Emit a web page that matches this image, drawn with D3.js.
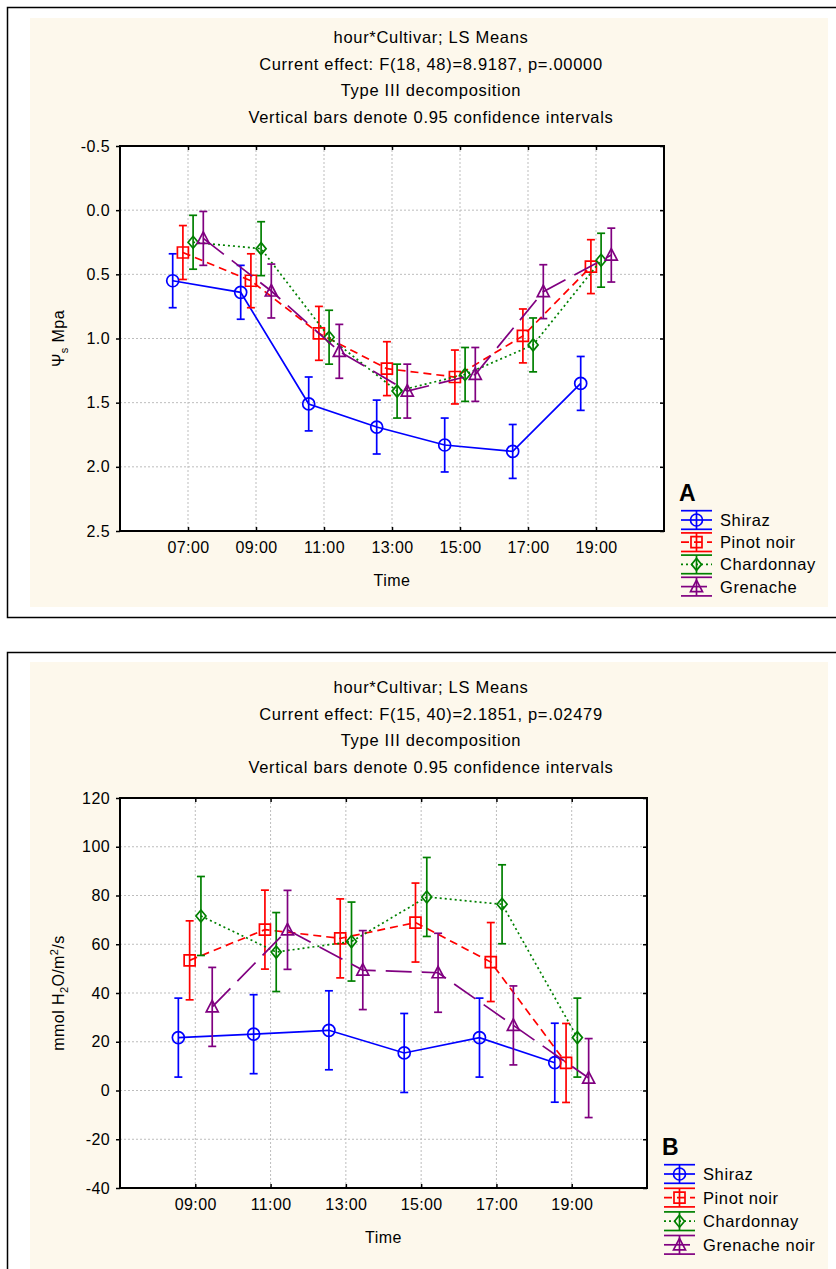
<!DOCTYPE html>
<html>
<head>
<meta charset="utf-8">
<script src="https://cdn.jsdelivr.net/npm/d3@7"></script>
<style>
  body { margin: 0; background: #fff; }
  text { font-family: "Liberation Sans", Arial, sans-serif; fill: #000; }
</style>
</head>
<body>
<script>
// data
var cultivarsA = ["Shiraz", "Pinot noir", "Chardonnay", "Grenache"];
var cultivarsB = ["Shiraz", "Pinot noir", "Chardonnay", "Grenache noir"];
var hoursA = [7, 9, 11, 13, 15, 17, 19];
var hoursB = [9, 11, 13, 15, 17, 19];
var hourLabelsA = ["07:00", "09:00", "11:00", "13:00", "15:00", "17:00", "19:00"];
var hourLabelsB = ["09:00", "11:00", "13:00", "15:00", "17:00", "19:00"];

// panel A: stem water potential (Mpa)
var psiShiraz = [0.55, 0.64, 1.51, 1.69, 1.83, 1.88, 1.35];
var psiPinot = [0.33, 0.55, 0.96, 1.235, 1.30, 0.98, 0.44];
var psiChard = [0.25, 0.30, 0.99, 1.41, 1.28, 1.05, 0.39];
var psiGren = [0.22, 0.63, 1.10, 1.41, 1.28, 0.635, 0.35];
var ciA = 0.21;
var ticksA = [-0.5, 0.0, 0.5, 1.0, 1.5, 2.0, 2.5];
var titleA = ["hour*Cultivar; LS Means", "Current effect: F(18, 48)=8.9187, p=.00000",
              "Type III decomposition", "Vertical bars denote 0.95 confidence intervals"];

// panel B: stomatal conductance
var gsShiraz = [21.7, 23.1, 24.7, 15.4, 21.7, 11.4];
var gsPinot = [53.4, 66.0, 62.4, 68.9, 52.7, 11.3];
var gsChard = [71.6, 56.8, 61.1, 79.4, 76.4, 21.7];
var gsGren = [34.3, 65.9, 49.4, 48.3, 26.7, 5.1];
var ciB = 16.2;
var ticksB = [-40, -20, 0, 20, 40, 60, 80, 100, 120];
var titleB = ["hour*Cultivar; LS Means", "Current effect: F(15, 40)=2.1851, p=.02479",
              "Type III decomposition", "Vertical bars denote 0.95 confidence intervals"];

//series look
var colors = ["#0000ff", "#ff0000", "#008000", "#800080"];
var dashes = [null, "8,5", "2,3", "26,10"];
var offsets = [-0.45, -0.15, 0.15, 0.45]; //hours
var shapes = ["circle", "square", "diamond", "triangle"];

var svg = d3.select("body").append("svg")
    .attr("width", 836)
    .attr("height", 1269);

function marker(g, shape, cx, cy, color){
    var p;
    if (shape == "circle"){
        g.append("circle").attr("cx", cx).attr("cy", cy).attr("r", 6)
            .attr("fill", "none").attr("stroke", color).attr("stroke-width", 1.7);
        return;
    }
    if (shape == "square") p = [[-5.5,-5.5],[5.5,-5.5],[5.5,5.5],[-5.5,5.5]];
    if (shape == "diamond") p = [[0,-6],[5,0],[0,6],[-5,0]];
    if (shape == "triangle") p = [[0,-6.5],[6,5],[-6,5]];
    g.append("path")
        .attr("d", "M" + p.map(function(q){ return (cx+q[0]) + "," + (cy+q[1]); }).join("L") + "Z")
        .attr("fill", "none").attr("stroke", color).attr("stroke-width", 1.7);
}

function drawPanel(cfg){
    var x = d3.scaleLinear().domain(cfg.xDomain).range([cfg.left, cfg.right]);
    var y = d3.scaleLinear().domain(cfg.yDomain).range([cfg.top, cfg.bottom]);

    //frame and cream background
    svg.append("rect")
        .attr("x", 7.5).attr("y", cfg.boxTop)
        .attr("width", 845).attr("height", cfg.boxH)
        .attr("fill", "#fff").attr("stroke", "#000").attr("stroke-width", 1.5);
    svg.append("rect")
        .attr("x", 30).attr("y", cfg.creamTop)
        .attr("width", 798).attr("height", cfg.creamH)
        .attr("fill", "#fdf8ec");

    //title lines
    cfg.title.forEach(function(t, i){
        svg.append("text")
            .attr("x", 431).attr("y", cfg.titleY + i * 26.5)
            .attr("text-anchor", "middle")
            .style("font-size", "16.5px")
            .style("letter-spacing", "0.7px")
            .text(t);
    });

    svg.append("rect")
        .attr("x", cfg.left).attr("y", cfg.top)
        .attr("width", cfg.right - cfg.left).attr("height", cfg.bottom - cfg.top)
        .attr("fill", "#fff");

    //grid
    var grid = svg.append("g").attr("stroke", "#bdbdbd").attr("stroke-dasharray", "2,2");
    cfg.ticks.forEach(function(v){
        if (y(v) <= cfg.top + 1 || y(v) >= cfg.bottom - 1) return;
        grid.append("line").attr("x1", cfg.left).attr("x2", cfg.right)
            .attr("y1", y(v)).attr("y2", y(v));
    });
    cfg.hours.forEach(function(h){
        grid.append("line").attr("x1", x(h)).attr("x2", x(h))
            .attr("y1", cfg.top).attr("y2", cfg.bottom);
    });

    //axes
    var fmt = function(d){ return cfg.fmt(d).replace("\u2212", "-"); };
    svg.append("g").attr("transform", "translate(" + cfg.left + ",0)")
        .call(d3.axisLeft(y).tickValues(cfg.ticks).tickSize(4).tickPadding(6).tickFormat(fmt));
    svg.append("g").attr("transform", "translate(" + cfg.right + ",0)")
        .call(d3.axisRight(y).tickValues(cfg.ticks).tickSize(-4).tickFormat(""));
    svg.append("g").attr("transform", "translate(0," + cfg.bottom + ")")
        .call(d3.axisBottom(x).tickValues(cfg.hours).tickSize(-4).tickPadding(11)
            .tickFormat(function(d, i){ return cfg.hourLabels[i]; }));
    svg.append("g").attr("transform", "translate(0," + cfg.top + ")")
        .call(d3.axisTop(x).tickValues(cfg.hours).tickSize(-4).tickFormat(""));
    svg.selectAll(".domain").remove();
    svg.selectAll(".tick line").attr("stroke", "#000").attr("stroke-width", 1.5);
    svg.selectAll(".tick text").style("font-size", "16px").style("letter-spacing", "0.4px")
        .attr("font-family", null);

    svg.append("rect")
        .attr("x", cfg.left).attr("y", cfg.top)
        .attr("width", cfg.right - cfg.left).attr("height", cfg.bottom - cfg.top)
        .attr("fill", "none").attr("stroke", "#000").attr("stroke-width", 2);

    //series
    cfg.series.forEach(function(vals, s){
        var g = svg.append("g");
        var pts = vals.map(function(v, i){ return [x(cfg.hours[i] + offsets[s]), y(v)]; });
        g.append("path")
            .attr("d", d3.line()(pts))
            .attr("fill", "none").attr("stroke", colors[s]).attr("stroke-width", 1.7)
            .attr("stroke-dasharray", dashes[s]);
        vals.forEach(function(v, i){
            var cx = pts[i][0];
            var y1 = y(v - cfg.ci), y2 = y(v + cfg.ci);
            g.append("line").attr("x1", cx).attr("x2", cx).attr("y1", y1).attr("y2", y2)
                .attr("stroke", colors[s]).attr("stroke-width", 1.7);
            [y1, y2].forEach(function(yy){
                g.append("line").attr("x1", cx - 4).attr("x2", cx + 4).attr("y1", yy).attr("y2", yy)
                    .attr("stroke", colors[s]).attr("stroke-width", 1.7);
            });
            marker(g, shapes[s], cx, pts[i][1], colors[s]);
        });
    });

    //axis titles
    var yl = svg.append("text")
        .attr("transform", "translate(" + cfg.yLabelX + "," + ((cfg.top + cfg.bottom) / 2) + ") rotate(-90)")
        .attr("text-anchor", "middle")
        .style("font-size", "16px")
        .style("letter-spacing", "0.4px");
    cfg.yLabel(yl);
    svg.append("text")
        .attr("x", (cfg.left + cfg.right) / 2).attr("y", cfg.bottom + 55)
        .attr("text-anchor", "middle")
        .style("font-size", "16px")
        .style("letter-spacing", "0.5px")
        .text("Time");

    //legend
    svg.append("text")
        .attr("x", cfg.legX - 2).attr("y", cfg.legY - 19)
        .style("font-size", "23px").style("font-weight", "bold")
        .text(cfg.letter);
    cfg.names.forEach(function(n, s){
        var cy = cfg.legY + s * cfg.legStep;
        var g = svg.append("g");
        var x0 = cfg.legX, x1 = cfg.legX + 31, xm = (x0 + x1) / 2;
        [cy - 9.3, cy + 9.3].forEach(function(yy){
            g.append("line").attr("x1", x0).attr("x2", x1).attr("y1", yy).attr("y2", yy)
                .attr("stroke", colors[s]).attr("stroke-width", 1.7);
        });
        g.append("line").attr("x1", xm).attr("x2", xm).attr("y1", cy - 9.3).attr("y2", cy + 9.3)
            .attr("stroke", colors[s]).attr("stroke-width", 1.7);
        g.append("line").attr("x1", x0).attr("x2", x1).attr("y1", cy).attr("y2", cy)
            .attr("stroke", colors[s]).attr("stroke-width", 1.7)
            .attr("stroke-dasharray", dashes[s]);
        marker(g, shapes[s], xm, cy, colors[s]);
        svg.append("text")
            .attr("x", x1 + 8).attr("y", cy + 6)
            .style("font-size", "16.5px")
            .style("letter-spacing", "0.6px")
            .text(n);
    });
}

drawPanel({
    boxTop: 7.5, boxH: 610, creamTop: 18, creamH: 589,
    title: titleA, titleY: 43,
    left: 120, right: 664, top: 146, bottom: 531,
    xDomain: [5, 21], yDomain: [-0.5, 2.5],
    hours: hoursA, hourLabels: hourLabelsA,
    ticks: ticksA, fmt: d3.format(".1f"),
    series: [psiShiraz, psiPinot, psiChard, psiGren], ci: ciA,
    yLabelX: 64,
    yLabel: function(t){
        t.append("tspan").text("\u03A8");
        t.append("tspan").attr("dy", 4).style("font-size", "11px").text("s");
        t.append("tspan").attr("dy", -4).text(" Mpa");
    },
    letter: "A", names: cultivarsA, legX: 681, legY: 520, legStep: 22.2
});

drawPanel({
    boxTop: 652.5, boxH: 700, creamTop: 662, creamH: 620,
    title: titleB, titleY: 693,
    left: 120, right: 647, top: 798, bottom: 1188,
    xDomain: [7, 21], yDomain: [120, -40],
    hours: hoursB, hourLabels: hourLabelsB,
    ticks: ticksB, fmt: d3.format("d"),
    series: [gsShiraz, gsPinot, gsChard, gsGren], ci: ciB,
    yLabelX: 64,
    yLabel: function(t){
        t.append("tspan").text("mmol H");
        t.append("tspan").attr("dy", 4).style("font-size", "11px").text("2");
        t.append("tspan").attr("dy", -4).text("O/m");
        t.append("tspan").attr("dy", -6).style("font-size", "11px").text("2");
        t.append("tspan").attr("dy", 6).text("/s");
    },
    letter: "B", names: cultivarsB, legX: 664, legY: 1174, legStep: 23.6
});
</script>
</body>
</html>
